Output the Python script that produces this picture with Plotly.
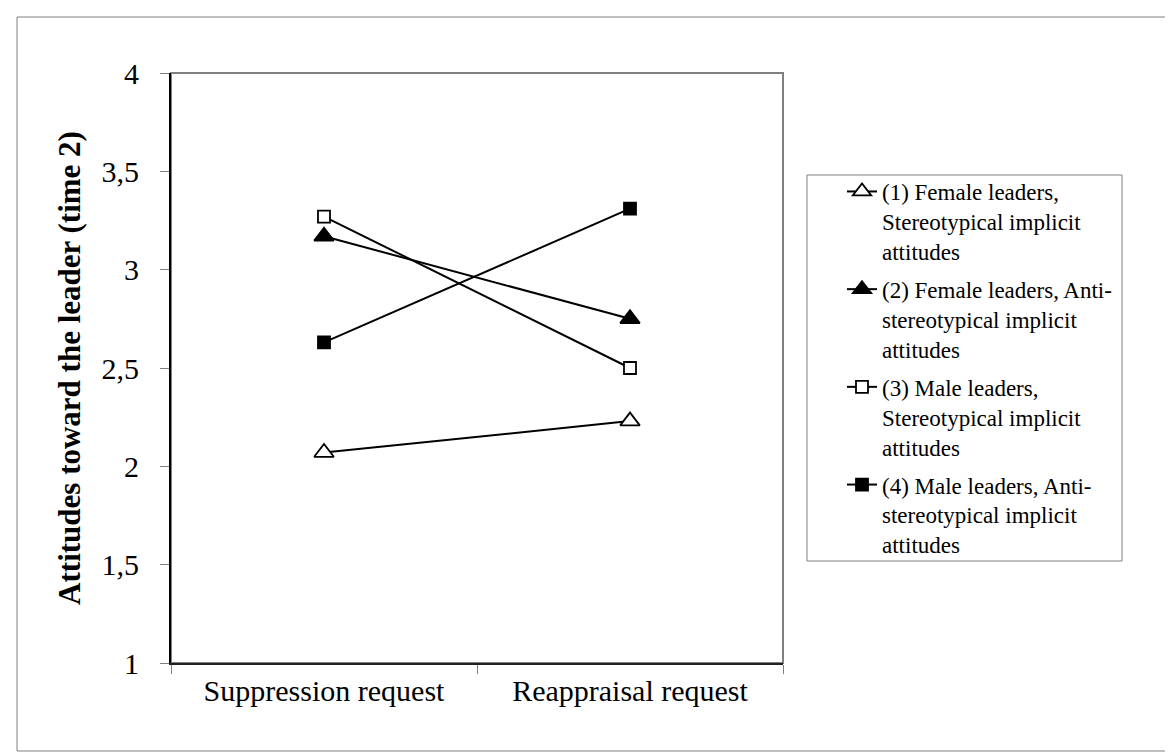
import plotly.graph_objects as go

categories = ["Suppression request", "Reappraisal request"]
series_names = [
    "(1) Female leaders,<br>Stereotypical implicit<br>attitudes",
    "(2) Female leaders, Anti-<br>stereotypical implicit<br>attitudes",
    "(3) Male leaders,<br>Stereotypical implicit<br>attitudes",
    "(4) Male leaders, Anti-<br>stereotypical implicit<br>attitudes",
]
s1_female_stereo = [2.07, 2.23]
s2_female_anti = [3.17, 2.75]
s3_male_stereo = [3.27, 2.50]
s4_male_anti = [2.63, 3.31]
y_tick_vals = [1, 1.5, 2, 2.5, 3, 3.5, 4]
y_tick_text = ["1", "1,5", "2", "2,5", "3", "3,5", "4"]

values = [s1_female_stereo, s2_female_anti, s3_male_stereo, s4_male_anti]
symbols = ["triangle-up", "triangle-up", "square", "square"]
fills = ["white", "black", "white", "black"]
sizes = [17, 17, 12, 12]

FONT = "Liberation Serif"

fig = go.Figure()
for i, (name, vals, sym, fc, sz) in enumerate(zip(series_names, values, symbols, fills, sizes)):
    fig.add_trace(go.Scatter(
        x=categories, y=vals, name=name, mode="lines+markers",
        legendgroup=f"g{i}",
        line=dict(color="black", width=2),
        marker=dict(symbol=sym, size=sz, color=fc, line=dict(color="black", width=1.8)),
    ))

W, H = 1173, 752
L, R, T, B = 163, 775, 65, 655


def px(x):
    return (x - L) / (R - L)


def py(y):
    return (B - y) / (B - T)


fig.update_layout(
    width=W, height=H,
    margin=dict(l=L, r=W - R, t=T, b=H - B, autoexpand=False),
    paper_bgcolor="white", plot_bgcolor="white",
    font=dict(family=FONT, color="black"),
    showlegend=True,
    legend=dict(
        x=px(834), xanchor="left",
        y=py(360), yanchor="middle",
        borderwidth=0, bgcolor="rgba(0,0,0,0)",
        font=dict(family=FONT, size=23, color="black"),
        tracegroupgap=5, valign="top",
    ),
    shapes=[
        dict(type="rect", xref="paper", yref="paper", x0=0, x1=1, y0=0, y1=1,
             line=dict(color="#808080", width=2), layer="below"),
        dict(type="rect", xref="paper", yref="paper",
             x0=px(9), x1=px(1167), y0=py(743), y1=py(9),
             line=dict(color="#808080", width=1), layer="below"),
        dict(type="rect", xref="paper", yref="paper",
             x0=px(799), x1=px(1114), y0=py(553), y1=py(167),
             line=dict(color="#808080", width=1), layer="below"),
    ],
)
fig.update_xaxes(
    type="category", range=[-0.5, 1.5],
    showline=True, linecolor="#202020", linewidth=2,
    ticks="outside", tickson="boundaries", ticklen=9, tickcolor="#808080", tickwidth=1,
    tickfont=dict(family=FONT, size=30, color="black"),
    showgrid=False, zeroline=False,
)
fig.update_yaxes(
    range=[1, 4], tickvals=y_tick_vals, ticktext=y_tick_text,
    showline=True, linecolor="black", linewidth=2,
    ticks="outside", ticklen=9, tickcolor="#808080", tickwidth=1,
    tickfont=dict(family=FONT, size=30, color="black"),
    ticklabelstandoff=15,
    showgrid=False, zeroline=False,
    title=dict(text="<b>Attitudes toward the leader (time 2)</b>",
               font=dict(family=FONT, size=31, color="black"), standoff=12),
)

fig.write_html("out.html")
